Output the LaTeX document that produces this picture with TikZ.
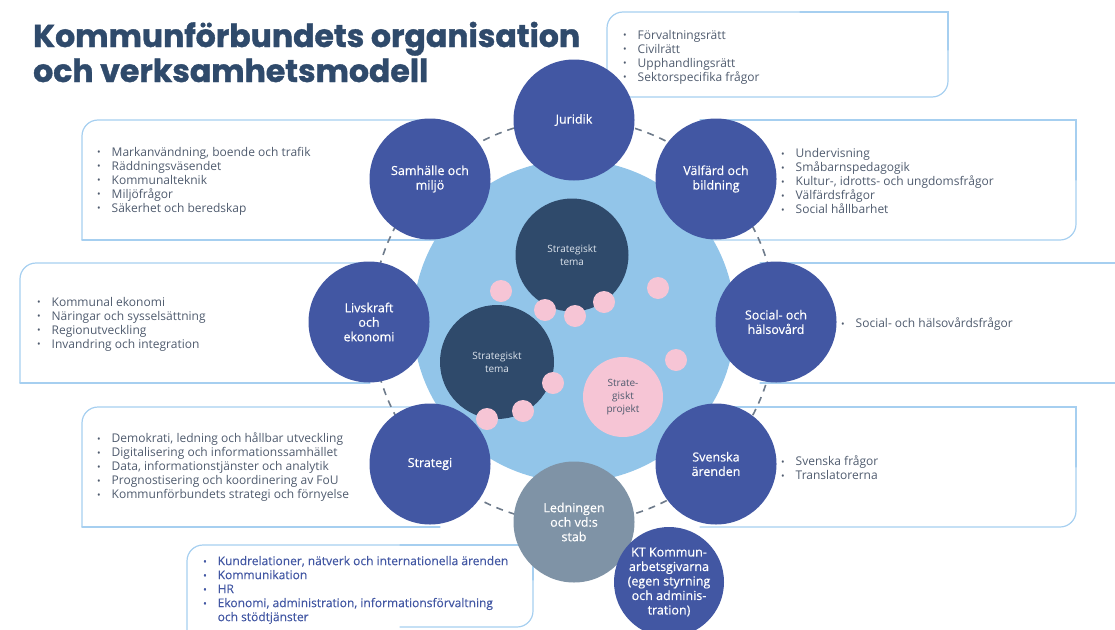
\documentclass[tikz,border=0pt]{standalone}
\usepackage{fontspec}
\setmainfont{Open Sans}
\newfontfamily\titlefont{Poppins}[BoldFeatures={FakeBold=1.2}]
\newfontfamily\medfont{Open Sans}[FakeBold=0.5]
\newfontfamily\semifont{Open Sans}[FakeBold=0.3]
\definecolor{cBlue}{HTML}{4257A3}
\definecolor{cGray}{HTML}{7F93A6}
\definecolor{cSky}{HTML}{92C5E9}
\definecolor{cNavy}{HTML}{2F4A6B}
\definecolor{cPink}{HTML}{F6C5D5}
\definecolor{cLine}{HTML}{A6CFF0}
\definecolor{cDash}{HTML}{6E7B8B}
\definecolor{cText}{HTML}{4F5B6E}
\definecolor{cPale}{HTML}{DCE3EC}
\newcommand\bl{\makebox[14.5pt][l]{\raisebox{0.3pt}{\fontsize{9.5}{9.5}\selectfont •}}}
\newcommand\ind{\hspace*{14.5pt}}
\begin{document}
\begin{tikzpicture}[x=1pt,y=-1pt,
  outer/.style={circle, fill=cBlue, text=white, minimum size=121pt, inner sep=0pt, align=center, font=\medfont\fontsize{12.5}{14.5}\selectfont},
  theme/.style={circle, fill=cNavy, text=cPale, inner sep=0pt, align=center, font=\fontsize{10}{13}\selectfont},
  proj/.style={circle, fill=cPink, text=cText, minimum size=80pt, inner sep=0pt, align=center, font=\fontsize{10}{13}\selectfont},
  dot/.style={circle, fill=cPink, minimum size=22pt, inner sep=0pt},
  boxline/.style={draw=cLine, line width=1.2pt, line cap=round},
  rc/.style={rounded corners=16pt},
  list/.style={anchor=west, align=left, inner sep=0pt, text=cText, font=\fontsize{12}{14}\selectfont},
  ttl/.style={anchor=base west, inner sep=0pt, text=cNavy, font=\titlefont\bfseries\fontsize{31.5}{35}\selectfont}
]
\useasboundingbox (0,0) rectangle (1115,629);
\clip (0,0) rectangle (1115,629);

% title
\node[ttl] (t1) at (33,47) {Kommunförbundets organisation};
\node[ttl] (t2) at (33,82) {och verksamhetsmodell};

% boxes
\draw[boxline,rc] (607,97) -- (607,12) -- (800,12);
\draw[boxline] (800,12) -- (948,12) -- (948,50);
\draw[boxline,rc] (948,50) -- (948,97) -- (607,97);

\draw[boxline,rc] (82,240) -- (82,120) -- (440,120);
\draw[boxline] (82,240) -- (440,240);

\draw[boxline] (700,120) -- (1076,120) -- (1076,180);
\draw[boxline,rc] (1076,180) -- (1076,240) -- (700,240);

\draw[boxline,rc] (20,383) -- (20,263) -- (370,263);
\draw[boxline] (20,383) -- (370,383);

\draw[boxline] (760,263) -- (1120,263);
\draw[boxline] (760,383) -- (1120,383);

\draw[boxline,rc] (82,527) -- (82,407) -- (440,407);
\draw[boxline] (82,527) -- (440,527);

\draw[boxline] (700,407) -- (1076,407) -- (1076,467);
\draw[boxline,rc] (1076,467) -- (1076,527) -- (700,527);

\draw[boxline,rc] (187,640) -- (187,545) -- (400,545);
\draw[boxline] (400,545) -- (533,545) -- (533,580);
\draw[boxline,rc] (533,580) -- (533,627) -- (400,627);

% dashed ring and central disc
\draw[cDash, line width=1.6pt, dash pattern=on 7pt off 6pt] (574,321) circle [radius=202];
\fill[cSky] (574,321) circle [radius=161];

% outer circles
\node[outer] (jur) at (574,120) {Juridik};
\node[outer] (valf) at (716,179) {Välfärd och\\bildning};
\node[outer] (soc) at (776,322) {Social- och\\hälsovård};
\node[outer] (sven) at (716,464) {Svenska\\ärenden};
\node[outer, fill=cGray] (led) at (574,522) {Ledningen\\och vd:s\\stab};
\node[outer] (strat) at (430,464) {Strategi};
\node[outer] (livs) at (369,322) {Livskraft\\och\\ekonomi};
\node[outer] (samh) at (430,179) {Samhälle och\\miljö};
\node[outer, minimum size=110pt] (kt) at (669,582) {KT Kommun-\\arbetsgivarna\\(egen styrning\\och adminis-\\tration)};

% inner circles
\node[theme, minimum size=113pt] (tema1) at (572,255) {Strategiskt\\tema};
\node[theme, minimum size=114pt] (tema2) at (497,362) {Strategiskt\\tema};
\node[proj] (proj) at (623,397) {Strate-\\giskt\\projekt};
\node[dot] (d1) at (501,291) {};
\node[dot] (d2) at (545,310) {};
\node[dot] (d3) at (575,316) {};
\node[dot] (d4) at (604,302) {};
\node[dot] (d5) at (658,288) {};
\node[dot] (d6) at (676,360) {};
\node[dot] (d7) at (553,383) {};
\node[dot] (d8) at (523,411) {};
\node[dot] (d9) at (487,419) {};

% lists
\node[list] (ljur) at (623,57) {\bl Förvaltningsrätt\\\bl Civilrätt\\\bl Upphandlingsrätt\\\bl Sektorspecifika frågor};
\node[list] (lsamh) at (97,181) {\bl Markanvändning, boende och trafik\\\bl Räddningsväsendet\\\bl Kommunalteknik\\\bl Miljöfrågor\\\bl Säkerhet och beredskap};
\node[list] (lvalf) at (781,181) {\bl Undervisning\\\bl Småbarnspedagogik\\\bl Kultur-, idrotts- och ungdomsfrågor\\\bl Välfärdsfrågor\\\bl Social hållbarhet};
\node[list] (llivs) at (37,324) {\bl Kommunal ekonomi\\\bl Näringar och sysselsättning\\\bl Regionutveckling\\\bl Invandring och integration};
\node[list] (lsoc) at (841,324) {\bl Social- och hälsovårdsfrågor};
\node[list] (lstrat) at (97,467) {\bl Demokrati, ledning och hållbar utveckling\\\bl Digitalisering och informationssamhället\\\bl Data, informationstjänster och analytik\\\bl Prognostisering och koordinering av FoU\\\bl Kommunförbundets strategi och förnyelse};
\node[list] (lsven) at (781,468) {\bl Svenska frågor\\\bl Translatorerna};
\node[list, text=cBlue, font=\semifont\fontsize{12}{14}\selectfont] (lled) at (203,590) {\bl Kundrelationer, nätverk och internationella ärenden\\\bl Kommunikation\\\bl HR\\\bl Ekonomi, administration, informationsförvaltning\\\ind och stödtjänster};
\end{tikzpicture}
\end{document}
